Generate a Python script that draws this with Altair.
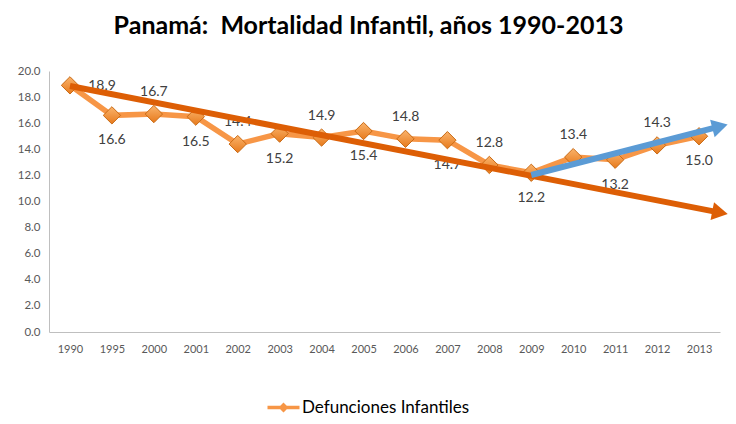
import math
import altair as alt
import pandas as pd

# ---- data ----
years = ["1990", "1995", "2000", "2001", "2002", "2003", "2004", "2005",
         "2006", "2007", "2008", "2009", "2010", "2011", "2012", "2013"]
values = [18.9, 16.6, 16.7, 16.5, 14.4, 15.2, 14.9, 15.4,
          14.8, 14.7, 12.8, 12.2, 13.4, 13.2, 14.3, 15.0]
label_side = ["right", "below", "above", "below", "above", "below", "above", "below",
              "above", "below", "above", "below", "above", "below", "above", "below"]
series_name = "Defunciones Infantiles"
y_ticks = [0, 2, 4, 6, 8, 10, 12, 14, 16, 18, 20]

# trend arrows (start / end in chart units: category index, value)
trend_x = [0.0, 15.5]
trend_y = [18.85, 9.15]
recent_x = [11.0, 15.5]
recent_y = [12.03, 15.75]

W, H = 671, 261
X_DOM = [-0.5, 15.5]
Y_DOM = [0, 20]

FONT = "Lato"
ORANGE = "#F79646"
DARK = "#DD5E05"
BLUE = "#5B9BD5"

idx = list(range(len(years)))
df = pd.DataFrame({"i": idx, "year": years, "v": values, "side": label_side,
                   "serie": [series_name] * len(years),
                   "lbl": [f"{v:.1f}" for v in values]})

xs = alt.Scale(domain=X_DOM, nice=False, zero=False)
ys = alt.Scale(domain=Y_DOM, nice=False)

label_expr = "[" + ",".join(f"'{y}'" for y in years) + "][datum.value]"

x_axis = alt.Axis(values=idx, labelExpr=label_expr, grid=False, ticks=False,
                  domainColor="#BFBFBF", labelColor="#595959", labelFont=FONT,
                  labelFontSize=11, labelPadding=11, labelOverlap=False)
y_axis = alt.Axis(values=y_ticks, format=".1f", grid=False,
                  ticks=False, domainColor="#BFBFBF", labelColor="#595959",
                  labelFont=FONT, labelFontSize=11.5, labelPadding=9,
                  labelOverlap=False, labelFlush=False)


def X():
    return alt.X("i:Q", scale=xs, title=None, axis=x_axis)


def Y():
    return alt.Y("v:Q", scale=ys, title=None, axis=y_axis)


base = alt.Chart(df)

line = base.mark_line(color=ORANGE, strokeWidth=5.5).encode(x=X(), y=Y())

legend_symbol = ("M -3.2 -0.35 L 3.2 -0.35 L 3.2 0.35 L -3.2 0.35 Z "
                 "M 0 -1 L 1 0 L 0 1 L -1 0 Z")

pts = base.mark_point(
    shape="diamond", size=300, filled=True, opacity=1,
    fill=alt.Gradient(gradient="linear", x1=0, y1=0, x2=0, y2=1,
                      stops=[alt.GradientStop(color="#FAB36B", offset=0),
                             alt.GradientStop(color="#E77A1C", offset=1)]),
    stroke="#C96A14", strokeWidth=1,
).encode(
    x=X(), y=Y(),
    color=alt.Color("serie:N", scale=alt.Scale(range=[ORANGE]),
                    legend=alt.Legend(title=None, orient="none", legendX=226, legendY=328,
                                      symbolType=legend_symbol, symbolSize=100,
                                      symbolFillColor=ORANGE, symbolStrokeWidth=0,
                                      labelFont=FONT, labelFontSize=17, labelLimit=400,
                                      labelColor="#000000", labelOffset=10)),
)


def labels(side, dx, dy):
    return base.transform_filter(f"datum.side == '{side}'").mark_text(
        font=FONT, fontSize=14, color="#404040", dx=dx, dy=dy
    ).encode(x=X(), y=Y(), text="lbl:N")


def arrow(ax, ay, color):
    px = W / (X_DOM[1] - X_DOM[0])
    py = H / (Y_DOM[1] - Y_DOM[0])
    ang = math.degrees(math.atan2(-(ay[1] - ay[0]) * py, (ax[1] - ax[0]) * px)) % 360
    d = pd.DataFrame({"i": ax, "v": ay})
    ln = alt.Chart(d).mark_line(color=color, strokeWidth=6, clip=False).encode(x=X(), y=Y())
    hd = alt.Chart(d.tail(1)).mark_point(shape="triangle-right", filled=True, opacity=1,
                                         size=330, color=color, angle=ang, clip=False
                                         ).encode(x=X(), y=Y())
    return ln + hd


chart = alt.layer(
    line, pts, labels("above", 0, -22), labels("below", 0, 25), labels("right", 32, 1),
    arrow(trend_x, trend_y, DARK),
    arrow(recent_x, recent_y, BLUE),
).properties(
    width=W, height=H,
    title=alt.TitleParams("Panamá:\u00a0\u00a0Mortalidad Infantil, años 1990-2013",
                          font=FONT, fontSize=25, fontWeight="bold", color="#000000",
                          anchor="middle", offset=26, dx=-16),
    autosize=alt.AutoSizeParams(type="none"),
    padding={"left": 41, "top": 63, "right": 8, "bottom": 84},
).configure_view(stroke=None).configure_axis(labelOverlap=False)

chart.save("out.html", embed_options={"renderer": "svg", "actions": False})
